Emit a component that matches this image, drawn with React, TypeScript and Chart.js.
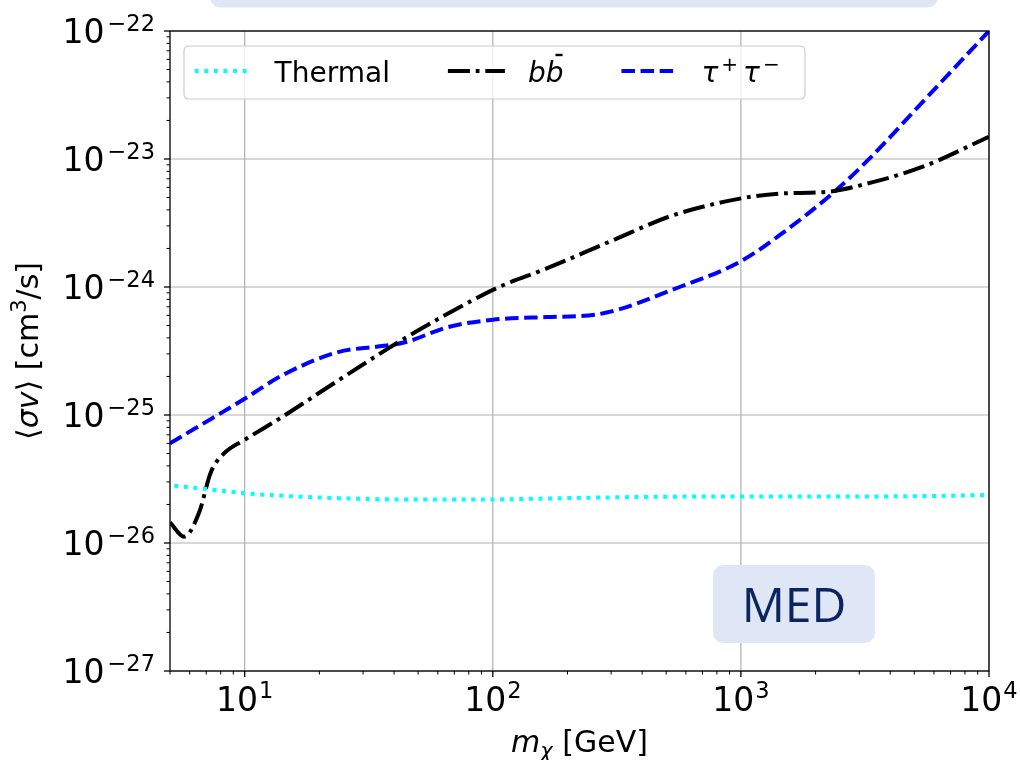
import React, { useEffect, useRef } from "react";
import { Chart, registerables } from "chart.js";

Chart.register(...registerables);

// ---------------- data ----------------
const X_MIN = 5;
const X_MAX = 1e4;
const Y_MIN = 1e-27;
const Y_MAX = 1e-22;
const xMajorExponents = [1, 2, 3, 4];
const yMajorExponents = [-27, -26, -25, -24, -23, -22];

const thermalMass = [5.2, 7, 10, 16, 24, 42, 100, 150, 290, 500, 1000, 3000, 6000, 10000];
const thermalSigma = [
  2.8e-26, 2.64e-26, 2.45e-26, 2.31e-26, 2.24e-26, 2.19e-26, 2.19e-26, 2.22e-26, 2.27e-26,
  2.3e-26, 2.31e-26, 2.31e-26, 2.33e-26, 2.37e-26,
];

const bbMass = [5, 5.7, 6.55, 7.3, 8.2, 10, 14.1, 23.8, 41.6, 66, 106, 164, 305, 532, 990, 1432, 2207, 3400, 5410, 10000];
const bbSigma = [
  1.45e-26, 1.12e-26, 1.73e-26, 3.56e-26, 4.95e-26, 6.4e-26, 9.6e-26, 1.86e-25, 3.7e-25, 6.2e-25,
  1.0e-24, 1.39e-24, 2.32e-24, 3.63e-24, 4.9e-24, 5.37e-24, 5.53e-24, 6.6e-24, 8.7e-24, 1.49e-23,
];

const tauMass = [5, 10, 14.1, 23.8, 34.5, 44.3, 66, 100, 164, 262, 566, 989, 1432, 2420, 3400, 5410, 10000];
const tauSigma = [
  6.0e-26, 1.34e-25, 2.03e-25, 3.1e-25, 3.43e-25, 3.7e-25, 4.86e-25, 5.55e-25, 5.82e-25, 6.1e-25,
  1.0e-24, 1.57e-24, 2.54e-24, 5.7e-24, 1.07e-23, 2.8e-23, 1.0e-22,
];

const seriesLabels = ["Thermal", "bb̄", "τ⁺τ⁻"];
const boxLabel = "MED";

// ---------------- drawing helpers ----------------
const FONT = '"DejaVu Sans", sans-serif';
type Seg = { t: string; size: number; italic?: boolean; dy?: number; padL?: number; bar?: boolean };

function setFont(ctx: CanvasRenderingContext2D, s: Seg) {
  ctx.font = `${s.italic ? "italic " : ""}${s.size}px ${FONT}`;
}
function measureSegs(ctx: CanvasRenderingContext2D, segs: Seg[]) {
  let w = 0;
  for (const s of segs) {
    setFont(ctx, s);
    w += (s.padL || 0) + ctx.measureText(s.t).width;
  }
  return w;
}
function drawSegs(ctx: CanvasRenderingContext2D, segs: Seg[], x: number, base: number) {
  let cx = x;
  for (const s of segs) {
    setFont(ctx, s);
    cx += s.padL || 0;
    const w = ctx.measureText(s.t).width;
    ctx.fillText(s.t, cx, base + (s.dy || 0));
    if (s.bar) ctx.fillRect(cx + w * 0.55, base - s.size * 0.99, w * 0.4, 2.4);
    cx += w;
  }
  return cx;
}
function roundRect(ctx: CanvasRenderingContext2D, x: number, y: number, w: number, h: number, r: number) {
  ctx.beginPath();
  ctx.moveTo(x + r, y);
  ctx.lineTo(x + w - r, y);
  ctx.quadraticCurveTo(x + w, y, x + w, y + r);
  ctx.lineTo(x + w, y + h - r);
  ctx.quadraticCurveTo(x + w, y + h, x + w - r, y + h);
  ctx.lineTo(x + r, y + h);
  ctx.quadraticCurveTo(x, y + h, x, y + h - r);
  ctx.lineTo(x, y + r);
  ctx.quadraticCurveTo(x, y, x + r, y);
  ctx.closePath();
}

function richLabel(label: string): Seg[] {
  if (label === seriesLabels[1])
    return [
      { t: "b", size: 28, italic: true },
      { t: "b", size: 28, italic: true, bar: true },
    ];
  if (label === seriesLabels[2])
    return [
      { t: "τ", size: 28, italic: true },
      { t: "+", size: 20, dy: -11, padL: 3 },
      { t: "τ", size: 28, italic: true, padL: 5 },
      { t: "−", size: 20, dy: -11, padL: 3 },
    ];
  return [{ t: label, size: 28 }];
}

const gridPlugin = {
  id: "logGrid",
  beforeDatasetsDraw(chart: any) {
    const { ctx, chartArea: a, scales } = chart;
    const xs = scales.x;
    const ys = scales.y;
    ctx.save();
    ctx.strokeStyle = "#b0b0b0";
    ctx.lineWidth = 1.2;
    for (const e of xMajorExponents) {
      const px = xs.getPixelForValue(Math.pow(10, e));
      ctx.beginPath();
      ctx.moveTo(px, a.top);
      ctx.lineTo(px, a.bottom);
      ctx.stroke();
    }
    for (const e of yMajorExponents) {
      const py = ys.getPixelForValue(Math.pow(10, e));
      ctx.beginPath();
      ctx.moveTo(a.left, py);
      ctx.lineTo(a.right, py);
      ctx.stroke();
    }
    ctx.restore();
  },
};

const decorPlugin = {
  id: "decor",
  afterDatasetsDraw(chart: any) {
    const { ctx, chartArea: a, scales } = chart;
    const xs = scales.x;
    const ys = scales.y;
    ctx.save();

    // spines
    ctx.strokeStyle = "#000";
    ctx.lineWidth = 1.3;
    ctx.strokeRect(a.left, a.top, a.right - a.left, a.bottom - a.top);

    // ticks
    ctx.fillStyle = "#000";
    const tick = (x1: number, y1: number, x2: number, y2: number, w: number) => {
      ctx.lineWidth = w;
      ctx.beginPath();
      ctx.moveTo(x1, y1);
      ctx.lineTo(x2, y2);
      ctx.stroke();
    };
    for (let d = 0; d <= 4; d++) {
      for (let k = 1; k <= 9; k++) {
        const v = k * Math.pow(10, d);
        if (v < X_MIN - 1e-9 || v > X_MAX * 1.0000001) continue;
        const px = xs.getPixelForValue(v);
        if (k === 1) tick(px, a.bottom, px, a.bottom + 6, 1.3);
        else tick(px, a.bottom, px, a.bottom + 3.5, 1.0);
      }
    }
    for (let e = -27; e <= -22; e++) {
      for (let k = 1; k <= 9; k++) {
        const v = k * Math.pow(10, e);
        if (v > Y_MAX * 1.0000001) continue;
        const py = ys.getPixelForValue(v);
        if (k === 1) tick(a.left, py, a.left - 6, py, 1.3);
        else tick(a.left, py, a.left - 3.5, py, 1.0);
      }
    }

    // tick labels
    ctx.textAlign = "left";
    ctx.textBaseline = "alphabetic";
    for (const e of xMajorExponents) {
      const px = xs.getPixelForValue(Math.pow(10, e));
      const segs: Seg[] = [
        { t: "10", size: 33 },
        { t: String(e), size: 22.5, dy: -12.5, padL: 1 },
      ];
      const w = measureSegs(ctx, segs);
      drawSegs(ctx, segs, px - w / 2, a.bottom + 39.5);
    }
    for (const e of yMajorExponents) {
      const py = ys.getPixelForValue(Math.pow(10, e));
      const segs: Seg[] = [
        { t: "10", size: 33 },
        { t: "−" + String(Math.abs(e)), size: 22.5, dy: -11.5, padL: 3 },
      ];
      const w = measureSegs(ctx, segs);
      drawSegs(ctx, segs, a.left - 15 - w, py + 11.5);
    }

    // axis titles
    const xt: Seg[] = [
      { t: "m", size: 30, italic: true },
      { t: "χ", size: 21, italic: true, dy: 6 },
      { t: " [GeV]", size: 30 },
    ];
    const xw = measureSegs(ctx, xt);
    drawSegs(ctx, xt, (a.left + a.right) / 2 - xw / 2, a.bottom + 81);

    const yt: Seg[] = [
      { t: "⟨", size: 30 },
      { t: "σv", size: 30, italic: true },
      { t: "⟩ [cm", size: 30 },
      { t: "3", size: 21, dy: -12 },
      { t: "/s]", size: 30 },
    ];
    const yw = measureSegs(ctx, yt);
    ctx.save();
    ctx.translate(0, (a.top + a.bottom) / 2);
    ctx.rotate(-Math.PI / 2);
    drawSegs(ctx, yt, -yw / 2, 38);
    ctx.restore();

    // MED box
    const bx = xs.getPixelForValue(X_MIN) + 543;
    const by = a.bottom - 106;
    ctx.fillStyle = "#dfe6f5";
    roundRect(ctx, bx, by, 162, 78, 12);
    ctx.fill();
    ctx.fillStyle = "#0b2561";
    ctx.font = `48px "Open Sans", sans-serif`;
    ctx.textAlign = "center";
    ctx.fillText(boxLabel, bx + 81, by + 57);
    ctx.textAlign = "left";

    // legend
    const lx = a.left + 14;
    const ly = a.top + 15;
    const lw = 621;
    const lh = 53;
    ctx.fillStyle = "rgba(255,255,255,0.8)";
    roundRect(ctx, lx, ly, lw, lh, 5);
    ctx.fill();
    ctx.strokeStyle = "#cccccc";
    ctx.lineWidth = 1.2;
    ctx.stroke();
    let cx = lx + 10.6;
    const lineY = ly + 25;
    chart.data.datasets.forEach((ds: any) => {
      ctx.save();
      ctx.strokeStyle = ds.borderColor;
      ctx.lineWidth = ds.borderWidth;
      ctx.setLineDash(ds.borderDash || []);
      ctx.lineCap = "butt";
      ctx.beginPath();
      ctx.moveTo(cx, lineY);
      ctx.lineTo(cx + 57, lineY);
      ctx.stroke();
      ctx.restore();
      ctx.fillStyle = "#000";
      const segs = richLabel(ds.label);
      const end = drawSegs(ctx, segs, cx + 57 + 23, ly + 35.5);
      cx = end + 58;
    });

    ctx.restore();
  },
  afterDraw(chart: any) {
    const { ctx } = chart;
    ctx.save();
    ctx.fillStyle = "#dfe6f5";
    roundRect(ctx, 210, -60, 728, 67.5, 12);
    ctx.fill();
    ctx.restore();
  },
};

export default function App() {
  const ref = useRef<HTMLCanvasElement>(null);
  useEffect(() => {
    if (!ref.current) return;
    const mk = (xs: number[], ys: number[]) => xs.map((x, i) => ({ x, y: ys[i] }));
    const chart = new Chart(ref.current, {
      type: "scatter",
      data: {
        datasets: [
          {
            label: seriesLabels[0],
            data: mk(thermalMass, thermalSigma),
            borderColor: "#00ffff",
            backgroundColor: "#00ffff",
            borderWidth: 4,
            borderDash: [4, 5.6],
            showLine: true,
            pointRadius: 0,
            cubicInterpolationMode: "monotone",
            borderCapStyle: "butt",
          },
          {
            label: seriesLabels[1],
            data: mk(bbMass, bbSigma),
            borderColor: "#000000",
            backgroundColor: "#000000",
            borderWidth: 4,
            borderDash: [22, 5.8, 3.8, 5.8],
            showLine: true,
            pointRadius: 0,
            cubicInterpolationMode: "monotone",
            borderCapStyle: "butt",
          },
          {
            label: seriesLabels[2],
            data: mk(tauMass, tauSigma),
            borderColor: "#0000ff",
            backgroundColor: "#0000ff",
            borderWidth: 4,
            borderDash: [13.5, 5.6],
            showLine: true,
            pointRadius: 0,
            cubicInterpolationMode: "monotone",
            borderCapStyle: "butt",
          },
        ] as any,
      },
      options: {
        animation: false,
        responsive: false,
        devicePixelRatio: 1,
        layout: { padding: { left: 170, right: 31, top: 31, bottom: 89 } },
        plugins: { legend: { display: false }, tooltip: { enabled: false }, title: { display: false } },
        scales: {
          x: {
            type: "logarithmic",
            min: X_MIN,
            max: X_MAX,
            ticks: { display: false },
            grid: { display: false, drawTicks: false },
            border: { display: false },
          },
          y: {
            type: "logarithmic",
            min: Y_MIN,
            max: Y_MAX,
            ticks: { display: false },
            grid: { display: false, drawTicks: false },
            border: { display: false },
          },
        },
      } as any,
      plugins: [gridPlugin, decorPlugin],
    });
    return () => chart.destroy();
  }, []);
  return (
    <div style={{ position: "absolute", left: 0, top: 0, width: 1020, height: 760, background: "#fff" }}>
      <canvas ref={ref} width={1020} height={760} style={{ display: "block" }} />
    </div>
  );
}
